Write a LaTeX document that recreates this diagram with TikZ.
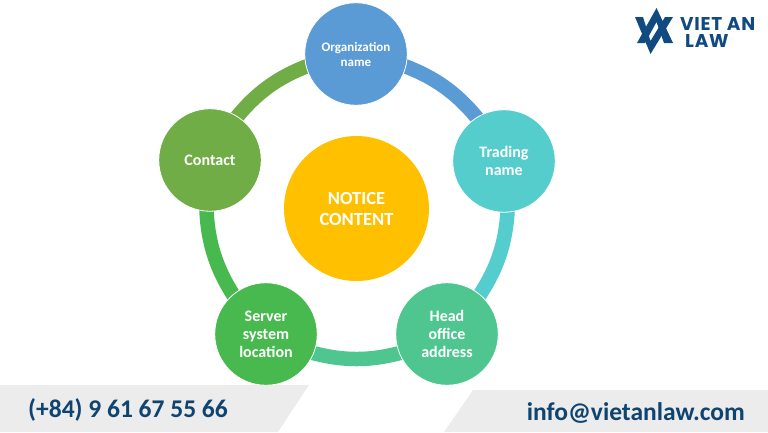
\documentclass[tikz,border=0pt]{standalone}
\usepackage{fontspec}
\setmainfont{Carlito}
\newfontfamily\logofont[LetterSpace=4]{Poppins}
\usetikzlibrary{backgrounds}
\definecolor{cblue}{HTML}{5B9BD5}
\definecolor{cteal}{HTML}{55CDCD}
\definecolor{cmint}{HTML}{4FC690}
\definecolor{cgreen}{HTML}{48B94F}
\definecolor{colive}{HTML}{70AD47}
\definecolor{cgold}{HTML}{FFC000}
\definecolor{cband}{HTML}{ECECEC}
\definecolor{cnavy}{HTML}{0F4470}
\definecolor{clogo}{HTML}{114A80}
\tikzset{
  x=1pt,y=-1pt,
  petal/.style={circle,draw=white,line width=0.8pt,minimum size=102.5pt,inner sep=0pt,align=center,text=white,font=\bfseries\fontsize{16}{18}\selectfont},
  hub/.style={circle,fill=cgold,minimum size=145pt,inner sep=0pt,align=center,text=white,font=\bfseries\fontsize{18.5}{21}\selectfont},
  ring/.style={line width=14.5pt,looseness=0.87,shorten <=-8pt,shorten >=-8pt,bend left=16.7},
  band/.style={fill=cband,draw=none},
  contact/.style={text=cnavy,inner sep=0pt,font=\bfseries\fontsize{25.5}{28}\selectfont},
  logomark/.style={fill=clogo,draw=none},
  logotext/.style={text=clogo,inner sep=0pt,font=\logofont\bfseries\fontsize{18.5}{20}\selectfont}
}
\begin{document}
\begin{tikzpicture}
\useasboundingbox (0,0) rectangle (768,432);
\node[hub] (center) at (356.5,208.5) {NOTICE\\CONTENT};
\node[petal,fill=cblue,font=\bfseries\fontsize{13}{15}\selectfont] (org) at (356,54) {Organization\\name};
\node[petal,fill=cteal] (trade) at (504,161) {Trading\\name};
\node[petal,fill=cmint] (head) at (447,334) {Head\\office\\address};
\node[petal,fill=cgreen] (server) at (266,334) {Server\\system\\location};
\node[petal,fill=colive] (contactn) at (210,160) {Contact};
\begin{scope}[on background layer]
\draw[ring,cblue] (org.-14) to (trade.122);
\draw[ring,cteal] (trade.274) to (head.50);
\draw[ring,cmint] (head.202) to (server.-22);
\draw[ring,cgreen] (server.130) to (contactn.-94);
\draw[ring,colive] (contactn.58) to (org.194);
\end{scope}
\fill[band] (0,385) -- (309,385) -- (278,432) -- (0,432) -- cycle;
\fill[band] (473,390) -- (768,390) -- (768,432) -- (444,432) -- cycle;
\node[contact,anchor=base west] (phone) at (28,417) {(+84) 9 61 67 55 66};
\node[contact,anchor=base east] (mail) at (745,420) {info@vietanlaw.com};
\fill[logomark] (656.5,8) -- (673,43) -- (664,43) -- (656.5,22) -- (645,43) -- (637,43) -- cycle;
\fill[logomark] (635,17) -- (643,17) -- (650.5,41) -- (665,17) -- (673,17) -- (650.5,54) -- cycle;
\node[logotext,anchor=base west] (vietan) at (680,30) {VIET AN};
\node[logotext,anchor=base west] (law) at (685,47) {LAW};
\end{tikzpicture}
\end{document}
